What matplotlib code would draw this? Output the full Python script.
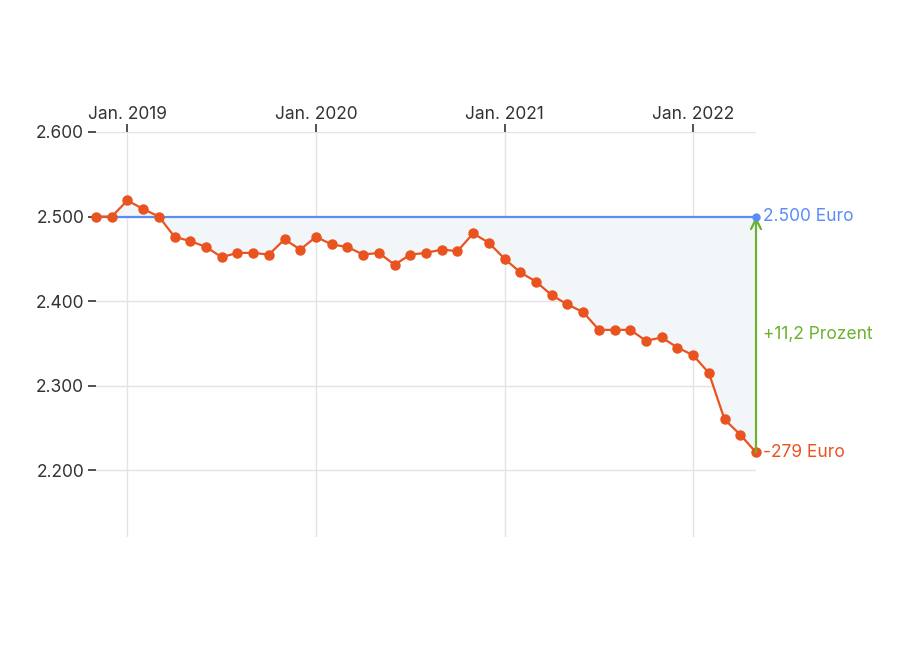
import numpy as np
import pandas as pd
import matplotlib.pyplot as plt
from matplotlib.ticker import FuncFormatter

plt.rcParams['font.family'] = ['Inter', 'DejaVu Sans']

# Monatswerte Nov. 2018 bis Mai 2022
monate = pd.date_range('2018-11-01', '2022-05-01', freq='MS')
werte = [2500, 2500, 2519, 2509, 2500, 2476, 2471, 2464, 2452, 2457,
         2457, 2455, 2473, 2461, 2476, 2467, 2464, 2455, 2457, 2443,
         2455, 2457, 2461, 2459, 2480, 2469, 2450, 2434, 2423, 2407,
         2396, 2387, 2366, 2366, 2366, 2353, 2357, 2345, 2336, 2315,
         2260, 2242, 2221]
basis = 2500
y_ticks = [2200, 2300, 2400, 2500, 2600]
x_tick_jahre = [2019, 2020, 2021, 2022]

ORANGE = '#e8531f'
BLAU = '#5b8bf7'
GRUEN = '#6cb22f'
GRID = '#e3e3e3'
FS = 12.5

x = np.arange(len(werte))
# Position der Januar-Ticks als Monatsindex
x_ticks = [(j - 2018) * 12 - 10 for j in x_tick_jahre]

fig = plt.figure(figsize=(9, 6.5), dpi=100)
ax = fig.add_axes([96 / 900, 1 - 537 / 650, 660 / 900, 405 / 650])

ax.fill_between(x, werte, basis, color='#f3f6f8', lw=0, zorder=1)
ax.plot(x, [basis] * len(x), color=BLAU, lw=1.6, zorder=2)
ax.plot(x, werte, color=ORANGE, lw=1.6, marker='o', ms=6.5, zorder=3,
        clip_on=False)
ax.plot(x[-1], basis, 'o', color=BLAU, ms=5, zorder=4, clip_on=False)

# Pfeil von letztem Wert bis zur Basis
ax.annotate('', xy=(x[-1], basis), xytext=(x[-1], werte[-1]),
            arrowprops=dict(arrowstyle='->', color=GRUEN, lw=1.6,
                            mutation_scale=18, shrinkA=0, shrinkB=0),
            zorder=3)

diff = werte[-1] - basis
prozent = -diff / basis * 100
ax.annotate(f'{basis:,}'.replace(',', '.') + ' Euro', (x[-1], basis),
            xytext=(5, 0), textcoords='offset points', va='center',
            color=BLAU, fontsize=FS)
ax.annotate(f'{diff} Euro', (x[-1], werte[-1]),
            xytext=(5, 0), textcoords='offset points', va='center',
            color=ORANGE, fontsize=FS)
ax.annotate(f'+{prozent:.1f} Prozent'.replace('.', ','),
            (x[-1], (basis + werte[-1]) / 2),
            xytext=(5, 0), textcoords='offset points', va='center',
            color=GRUEN, fontsize=FS)

ax.set_xlim(x[0], x[-1])
ax.set_ylim(2121, 2600)
ax.set_yticks(y_ticks)
ax.yaxis.set_major_formatter(FuncFormatter(lambda v, p: f'{int(v):,}'.replace(',', '.')))
ax.set_xticks(x_ticks)
ax.set_xticklabels([f'Jan. {j}' for j in x_tick_jahre])
ax.xaxis.tick_top()

ax.tick_params(axis='both', length=6, width=1.2, color='#333333',
               labelcolor='#333333', labelsize=FS, pad=2.5)
ax.tick_params(axis='x', pad=0.5)
ax.grid(True, color=GRID, lw=1)
ax.set_axisbelow(True)
for s in ax.spines.values():
    s.set_visible(False)

fig.savefig('out.png', dpi=100)
